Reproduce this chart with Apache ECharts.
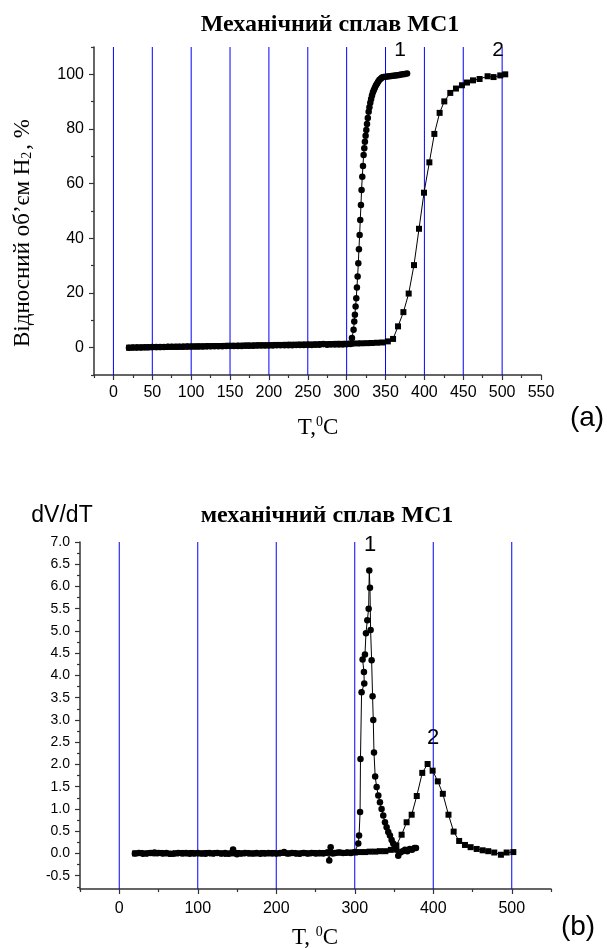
<!DOCTYPE html>
<html><head><meta charset="utf-8">
<script src="https://cdn.jsdelivr.net/npm/echarts@6/dist/echarts.min.js"></script>
<style>html,body{margin:0;padding:0;background:#fff}#c{width:607px;height:948px}</style>
</head><body><div id="c"></div>
<script>
// ---- Chart (a): relative H2 volume, % vs T, °C ----
var topCurve1 = [[20,0],[25,0.05],[30,0.1],[35,0.1],[40,0.15],[45,0.15],[50,0.2],[55,0.2],[60,0.25],[65,0.25],[70,0.3],[75,0.3],[80,0.3],[85,0.35],[90,0.35],[95,0.4],[100,0.4],[105,0.4],[110,0.45],[115,0.45],[120,0.5],[125,0.5],[130,0.5],[135,0.55],[140,0.55],[145,0.6],[150,0.6],[155,0.6],[160,0.65],[165,0.65],[170,0.7],[175,0.7],[180,0.7],[185,0.75],[190,0.75],[195,0.8],[200,0.8],[205,0.8],[210,0.85],[215,0.85],[220,0.9],[225,0.9],[230,0.9],[235,0.95],[240,0.95],[245,1.0],[250,1.0],[255,1.0],[260,1.05],[265,1.1],[270,1.3],[275,1.1],[280,1.15],[285,1.15],[290,1.2],[295,1.2],[300,1.25],[305,1.3],
[306.8,3.5],[308.9,6.6],[309.8,9.6],[310.6,12.0],[311.5,15.1],[312.4,18.1],[313.2,22],[314.1,26],[315,30.9],[315.8,36],[316.7,41.2],[317.5,46.7],[318.4,52.2],[319.2,57.7],[320.1,62.5],[321,66.5],[321.8,70.5],
[322.7,73],[323.5,75.3],[324.4,77.5],[325.3,79.6],[326.2,81.8],[327.2,84],[328.3,86.3],[329.3,88],[330.4,89.6],[331.5,91],[332.6,92.3],[333.8,93.4],[335,94.3],[336.3,95.1],[337.6,95.9],[339,96.6],[340.5,97.3],[342,97.9],[343.7,98.4],[345.5,98.8],[347.5,99],[350,99.1],[352.5,99.2],[355,99.3],[357.5,99.4],[360,99.5],[362.5,99.6],[365,99.7],[367.5,99.8],[370,99.9],[372.5,100],[375,100.1],[377.7,100.3]];
var topCurve2 = [[20,0],[27,0.05],[33,0.1],[40,0.1],[46,0.15],[53,0.2],[59,0.2],[66,0.25],[72,0.3],[79,0.3],[85,0.35],[92,0.4],[98,0.4],[105,0.45],[111,0.5],[118,0.5],[124,0.55],[131,0.6],[137,0.6],[144,0.65],[150,0.7],[157,0.7],[163,0.75],[170,0.8],[176,0.8],[183,0.85],[189,0.9],[196,0.9],[202,0.95],[209,1.0],[215,1.0],[222,1.05],[228,1.1],[235,1.1],[241,1.15],[248,1.2],[254,1.2],[261,1.25],[267,1.3],[274,1.3],[280,1.35],[287,1.4],[293,1.4],[300,1.45],[306,1.5],[313,1.55],[319,1.6],[326,1.65],[332,1.7],[339,1.8],[346,1.9],[353,2.3],
[359.7,3.2],[366.1,7.8],[373,13],[379.8,19.8],[386.6,30.2],[393.1,43.5],[399.5,56.7],[406.4,67.8],[412.8,78.2],[419.6,85.9],[425.6,90.1],[433.3,93.2],[440.6,94.8],[448.3,96],[454.8,97],[462.5,97.8],[471,98.3],[481.3,99.3],[489,99],[497.6,99.6],[504,100]];
var topXRange = [-25, 550];
var topYRange = [-10, 110];
var topXTicks = [0,50,100,150,200,250,300,350,400,450,500,550];
var topXMinor = [-25,25,75,125,175,225,275,325,375,425,475,525];
var topYTicks = [0,20,40,60,80,100];
var topYMinor = [-10,10,30,50,70,90,110];
var topGridLines = [0,50,100,150,200,250,300,350,400,450,500];

// ---- Chart (b): dV/dT vs T, °C ----
var botCurve1 = [[20,0],[25,0.01],[30,-0.01],[35,0],[40,0.01],[45,0.02],[50,0.01],[55,0],[60,0.01],[65,-0.01],[70,0],[75,0.01],[80,0],[85,0.01],[90,-0.01],[95,0],[100,0.01],[105,0],[110,-0.01],[115,0.01],[120,0],[125,0.01],[130,0],[135,0.01],[140,0],[145,0.09],[150,-0.02],[155,0],[160,0.01],[165,0],[170,0],[175,0.01],[180,-0.01],[185,0],[190,0.01],[195,0],[200,0],[205,0.01],[210,0.03],[215,0],[220,0.01],[225,0],[230,-0.01],[235,0.01],[240,0],[245,0.01],[250,0],[255,0.01],[260,0],[265,0.02],[267.5,-0.16],[269.3,0.14],[272,0],[275,0.01],[280,0.02],[285,0.01],[290,0.02],[295,0.01],[300,0.03],
[304.5,0.22],[305.5,0.4],[306.8,0.93],[307.3,2.12],[308.7,3.62],[312.1,3.82],[311.7,4.08],[310,4.36],[313,4.47],[314.3,4.95],[316,5.24],[317.7,5.5],[318.5,6.36],[319.4,5.97],[320.2,5.02],[321.5,4.34],[322.7,3.53],[323.6,3.0],[324.5,2.27],[326,1.73],[327.9,1.49],[330,1.3],[332.1,1.15],[334.2,1.0],[336.3,0.85],[338.5,0.7],[340.6,0.59],[342.7,0.48],[344.8,0.4],[347,0.3],[349,0.22],[351,0.15],[353,0.08],[355.4,-0.05],[358,0.02],[361,0.05],[364,0.08],[367,0.05],[370,0.1],[373,0.08],[376,0.12],[378,0.12]];
var botCurve2 = [[20,0],[27,0.01],[33,0],[40,0.01],[46,0],[53,0.01],[59,0],[66,-0.01],[72,0],[79,0.01],[85,0],[92,0.01],[98,0],[105,0],[111,0.01],[118,0],[124,0.01],[131,0],[137,-0.01],[144,0],[150,0.01],[157,0],[163,0.01],[170,0],[176,0],[183,0.01],[189,0],[196,0.01],[202,0],[209,0.01],[215,0],[222,0.01],[228,0],[235,0.01],[241,0],[248,0.01],[254,0],[261,0.01],[267,0.02],[274,0.01],[280,0.02],[287,0.01],[293,0.02],[300,0.02],[306,0.03],[313,0.03],[319,0.04],[326,0.04],[332,0.05],[339,0.05],[346,0.08],[353,0.18],
[359.7,0.42],[366.1,0.7],[372.5,0.87],[379,1.29],[386,1.81],[392.8,2.01],[399.2,1.86],[405.8,1.62],[412.2,1.34],[419.4,0.87],[426,0.49],[433,0.28],[440.4,0.19],[447.6,0.14],[455.3,0.1],[462.9,0.07],[470.1,0.05],[477.7,0.02],[486.2,-0.03],[493.5,0.02],[502,0.03]];
var botXRange = [-50, 550];
var botYRange = [-0.8, 7];
var botXTicks = [0,100,200,300,400,500];
var botXMinor = [-50,50,150,250,350,450,550];
var botYTicks = [-0.5,0,0.5,1,1.5,2,2.5,3,3.5,4,4.5,5,5.5,6,6.5,7];
var botYMinor = [-0.75,-0.25,0.25,0.75,1.25,1.75,2.25,2.75,3.25,3.75,4.25,4.75,5.25,5.75,6.25,6.75];
var botGridLines = [0,100,200,300,400,500];

var AX = '#333';
var SANS = 'Liberation Sans, Arial, sans-serif';
var SERIF = 'Liberation Serif, Times New Roman, serif';

function mainAxis(grid, pos, range, ticks, fmt, fs, margin) {
  return {type:'value', gridIndex:grid, position:pos, offset:0, min:range[0], max:range[1], scale:true,
    axisLine:{show:true, onZero:false, lineStyle:{color:AX, width:1.5}},
    axisTick:{show:true, inside:false, length:5, customValues:ticks, lineStyle:{color:AX, width:1.2}},
    axisLabel:{show:true, customValues:ticks, formatter:fmt, color:'#000', fontFamily:SANS, fontSize:fs, margin:margin},
    splitLine:{show:false}, splitArea:{show:false}, minorSplitLine:{show:false}};
}
function minorAxis(grid, pos, range, ticks) {
  return {type:'value', gridIndex:grid, position:pos, offset:0, min:range[0], max:range[1], scale:true,
    axisLine:{show:false, onZero:false},
    axisTick:{show:true, inside:false, length:3, customValues:ticks, lineStyle:{color:AX, width:1.2}},
    axisLabel:{show:false}, splitLine:{show:false}, splitArea:{show:false}};
}
function ser(data, xi, yi, sym, size) {
  return {type:'line', data:data, xAxisIndex:xi, yAxisIndex:yi, symbol:sym, symbolSize:size,
    showSymbol:true, z:3, animation:false, silent:true,
    lineStyle:{color:'#000', width:1}, itemStyle:{color:'#000'}, emphasis:{disabled:true}};
}
function gridLineSeries(vals, xi, yi, yr) {
  return vals.map(function(v){
    return {type:'line', data:[[v, yr[0]],[v, yr[1]]], xAxisIndex:xi, yAxisIndex:yi, symbol:'none',
      silent:true, z:1, animation:false, clip:false,
      lineStyle:{color:'#0000ff', width:1}, emphasis:{disabled:true}};
  });
}
var intFmt = function(v){return String(Math.round(v));};
var decFmt = function(v){return v.toFixed(1);};

var series = [].concat(
  gridLineSeries(topGridLines, 0, 0, topYRange),
  gridLineSeries(botGridLines, 2, 2, botYRange),
  [ser(topCurve1,0,0,'circle',6.5), ser(topCurve2,0,0,'rect',6),
   ser(botCurve1,2,2,'circle',6.5), ser(botCurve2,2,2,'rect',6)]
);

var chart = echarts.init(document.getElementById('c'), null, {renderer:'canvas'});
chart.setOption({
  animation:false,
  backgroundColor:'#fff',
  grid:[{left:94, top:47, width:447, height:328},
        {left:80, top:542, width:471, height:347}],
  xAxis:[mainAxis(0,'bottom',topXRange,topXTicks,intFmt,16,10), minorAxis(0,'bottom',topXRange,topXMinor),
         mainAxis(1,'bottom',botXRange,botXTicks,intFmt,16,12), minorAxis(1,'bottom',botXRange,botXMinor)],
  yAxis:[mainAxis(0,'left',topYRange,topYTicks,intFmt,16,10), minorAxis(0,'left',topYRange,topYMinor),
         mainAxis(1,'left',botYRange,botYTicks,decFmt,14,10), minorAxis(1,'left',botYRange,botYMinor)],
  series:series,
  graphic:[
    {type:'text', x:330, y:25, style:{text:'Механічний сплав МС1', font:'bold 24px '+SERIF, fill:'#000', align:'center', verticalAlign:'middle'}},
    {type:'text', x:400, y:50, style:{text:'1', font:'21px '+SANS, fill:'#000', align:'center', verticalAlign:'middle'}},
    {type:'text', x:498, y:50, style:{text:'2', font:'21px '+SANS, fill:'#000', align:'center', verticalAlign:'middle'}},
    {type:'text', x:22, y:233, rotation:Math.PI/2, style:{text:'{a|Відносний об’єм H}{s|2}{a|, %}', align:'center', verticalAlign:'middle',
      rich:{a:{fontFamily:SERIF, fontSize:23, fill:'#000', lineHeight:24, verticalAlign:'bottom'}, s:{fontFamily:SERIF, fontSize:14, fill:'#000', lineHeight:14, verticalAlign:'bottom', padding:[0,2,0,0]}}}},
    {type:'text', x:318, y:427, style:{text:'{a|T,}{s|0}{a|C}', align:'center', verticalAlign:'middle',
      rich:{a:{fontFamily:SERIF, fontSize:23, fill:'#000', lineHeight:24, verticalAlign:'bottom'}, s:{fontFamily:SERIF, fontSize:14, fill:'#000', lineHeight:14, verticalAlign:'top'}}}},
    {type:'text', x:587, y:418, style:{text:'(a)', font:'28px '+SANS, fill:'#000', align:'center', verticalAlign:'middle'}},

    {type:'text', x:62, y:516, style:{text:'dV/dT', font:'23px '+SANS, fill:'#000', align:'center', verticalAlign:'middle'}},
    {type:'text', x:327, y:516, style:{text:'механічний сплав МС1', font:'bold 24px '+SERIF, fill:'#000', align:'center', verticalAlign:'middle'}},
    {type:'text', x:370, y:545, style:{text:'1', font:'22px '+SANS, fill:'#000', align:'center', verticalAlign:'middle'}},
    {type:'text', x:433, y:738, style:{text:'2', font:'22px '+SANS, fill:'#000', align:'center', verticalAlign:'middle'}},
    {type:'text', x:315, y:937, style:{text:'{a|T, }{s|0}{a|C}', align:'center', verticalAlign:'middle',
      rich:{a:{fontFamily:SERIF, fontSize:23, fill:'#000', lineHeight:24, verticalAlign:'bottom'}, s:{fontFamily:SERIF, fontSize:14, fill:'#000', lineHeight:14, verticalAlign:'top'}}}},
    {type:'text', x:578, y:927, style:{text:'(b)', font:'28px '+SANS, fill:'#000', align:'center', verticalAlign:'middle'}}
  ]
});
</script>
</body></html>
